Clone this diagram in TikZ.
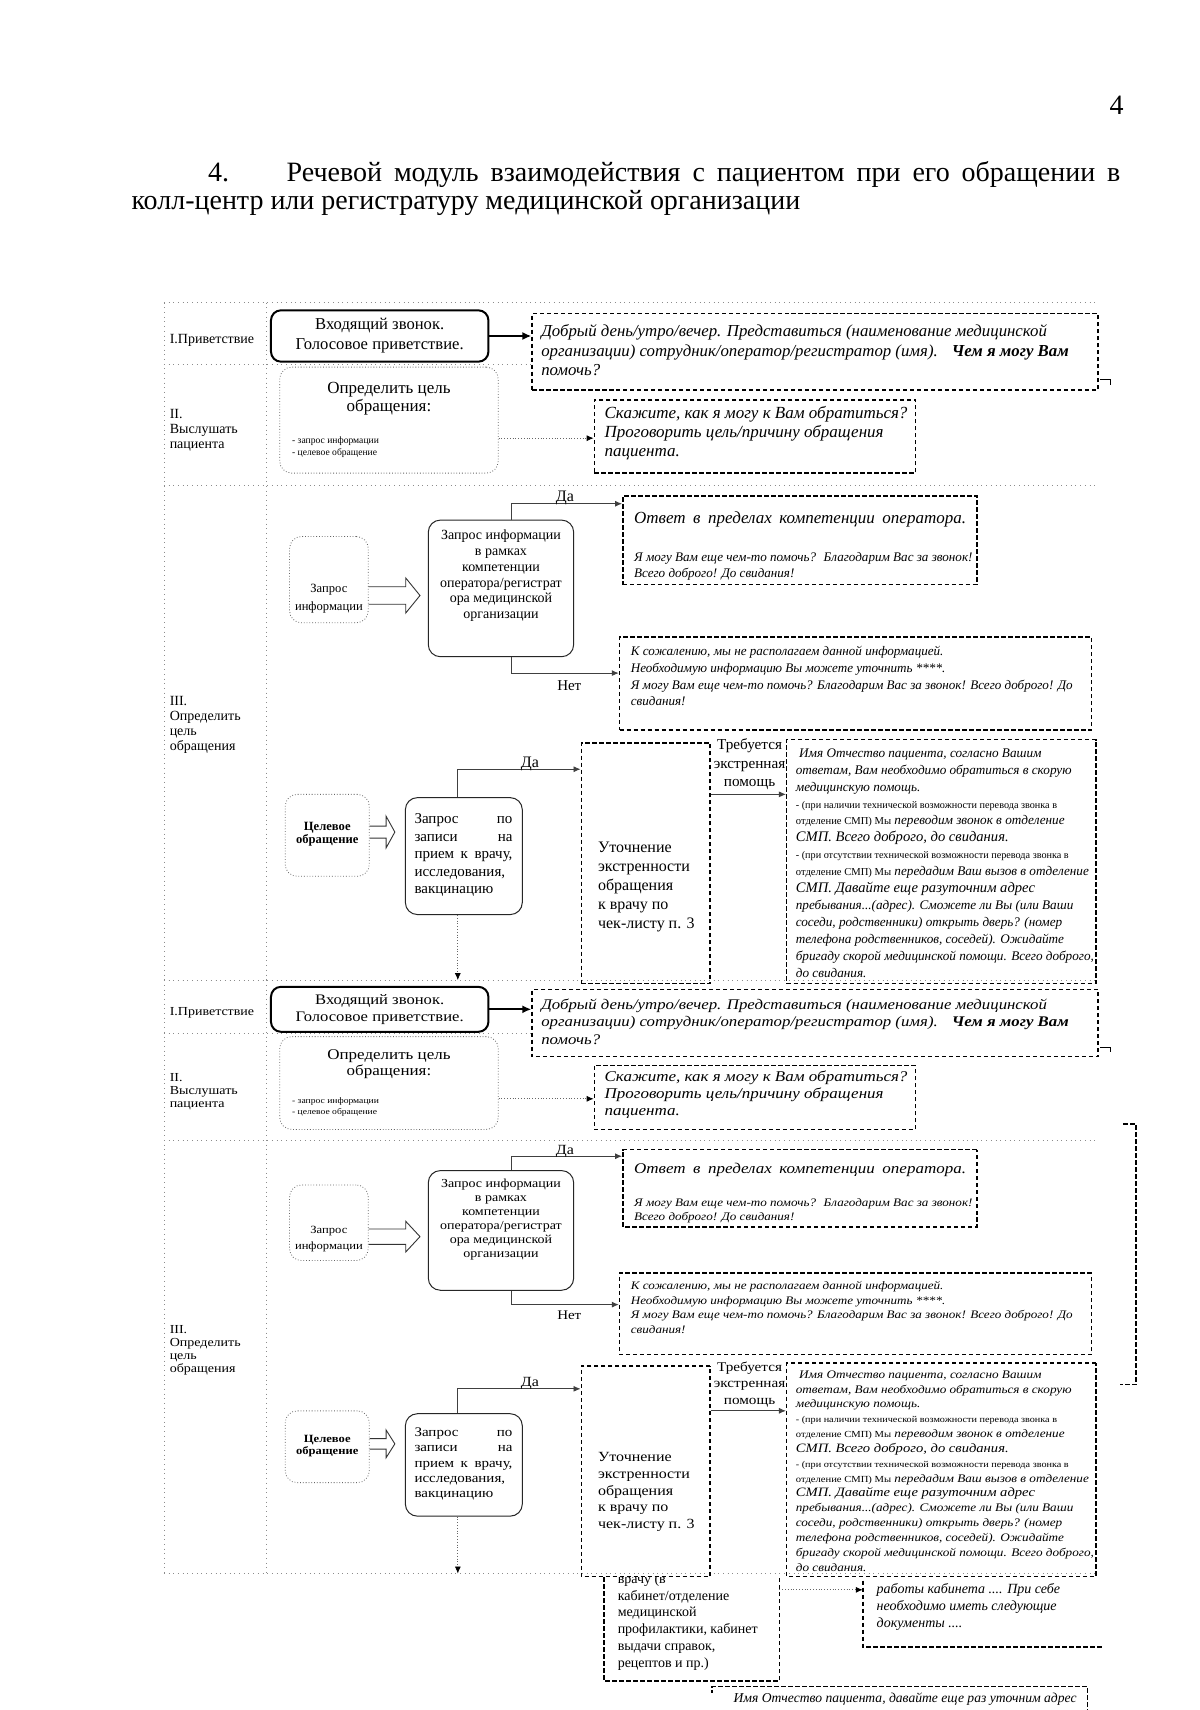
\documentclass[tikz,border=0pt]{standalone}
\usepackage{fontspec}
\setmainfont{Liberation Serif}
\usetikzlibrary{arrows.meta,calc}
\tikzset{
 frm/.style={draw=black!45,line width=0.35pt,dotted},
 dsh/.style={draw=black,line width=0.75pt,dash pattern=on 2.2pt off 1.3pt},
 dbox/.style={dsh,inner sep=0pt,rectangle},
 rboxk/.style={draw=black,line width=1pt,rounded corners=5pt,inner sep=0pt},
 rboxs/.style={draw=black!85,line width=0.5pt,rounded corners=6pt,inner sep=0pt},
 rboxg/.style={draw=black!60,line width=0.4pt,densely dotted,rounded corners=6pt,inner sep=0pt},
 conn/.style={draw=black!75,line width=0.45pt,-{Latex[length=3.5pt,width=3pt]}},
 dconn/.style={draw=black!60,line width=0.4pt,densely dotted,-{Latex[length=3.5pt,width=3pt,black]}},
 thconn/.style={draw=black,line width=1.1pt,-{Latex[length=4.5pt,width=4pt]}},
 hol/.style={draw=black!80,line width=0.45pt},
 txt/.style={anchor=base west,inner sep=0pt},
 ctxt/.style={anchor=base,inner sep=0pt},
 noshape/.style={inner sep=0pt,rectangle},
}
\newcommand\fs[2]{\fontsize{#1}{#2}\selectfont}
\newcommand\lblf{\fontsize{7}{7.4}\selectfont}
\newcommand\bx[6]{\node[#1,minimum width={(#4-#2)*0.5465pt},minimum height={(#5-#3)*0.5465pt}] (#6) at ({(#2+#4)/2},{(#3+#5)/2}) {};}
\newcommand\flowcopy{%
 \draw[frm] (150,277) -- (1005,277);
 \draw[frm] (150,277) -- (150,897);
 \draw[frm] (244,277) -- (244,897);
 \draw[frm] (150,333) -- (487,333);
 \draw[frm] (150,444) -- (1005,444);
 \draw[frm] (150,897) -- (1005,897);
 \node[txt,font=\lblf] (l1) at (155,314) {I.Приветствие};
 \node[txt,font=\lblf] (l2) at (155,383) {\parbox[t]{50pt}{\raggedright II.\\Выслушать\\пациента}};
 \node[txt,font=\lblf] (l3) at (155,646) {\parbox[t]{50pt}{\raggedright III.\\Определить\\цель\\обращения}};
 % row I
 \bx{rboxk}{248}{284}{447}{331}{a1}
 \node[ctxt,font=\fs{8.3}{9.8}] (a1t) at (347.5,302) {\parbox[t]{110pt}{\centering Входящий звонок.\\Голосовое приветствие.}};
 \bx{dbox}{487}{287}{1005}{357}{b1}
 \node[txt,font=\fs{8.4}{9.8}\itshape] (b1t) at (495,308) {\parbox[t]{330pt}{\raggedright Добрый день/утро/вечер. Представиться (наименование медицинской\\организации) сотрудник/оператор/регистратор (имя).~~ \textbf{Чем я могу Вам}\\помочь?}};
 \draw[thconn] (a1.east) -- (a1.east -| b1.west);
 \draw[line width=0.5pt] (1007,347) -- (1016,347) -- (1016,352);
 % row II
 \bx{rboxg}{256}{336}{456}{433}{a2}
 \node[ctxt,font=\fs{8.5}{9.3}] (a2t) at (356,360) {\parbox[t]{100pt}{\centering Определить цель\\обращения:}};
 \node[txt,font=\fs{4.8}{6}] (a2s) at (267,406) {\parbox[t]{60pt}{\raggedright - запрос информации\\- целевое обращение}};
 \bx{dbox}{544}{366}{838}{433}{b2}
 \node[txt,font=\fs{8.5}{9.6}\itshape] (b2t) at (553,383) {\parbox[t]{200pt}{\raggedright Скажите, как я могу к Вам обратиться?\\Проговорить цель/причину обращения\\пациента.}};
 \coordinate (ja2) at (456,401);
 \draw[dconn] (a2.east |- ja2) -- (b2.west |- ja2);
 % row III, information request
 \bx{rboxg}{265}{491}{337}{570}{c1}
 \node[ctxt,font=\fs{6.3}{9}] (c1t) at (301,542) {\parbox[t]{40pt}{\centering Запрос\\информации}};
 \coordinate (hc) at (337,545);
 \draw[hol] (c1.east |- hc) ++(0,-8) -- ++(34,0) -- ++(0,-8) -- ++(13,16) -- ++(-13,16) -- ++(0,-8) -- ++(-34,0);
 \bx{rboxs}{392}{476}{525}{601}{c2}
 \node[ctxt,font=\fs{7}{7.9}] (c2t) at (458.5,494) {\parbox[t]{72pt}{\centering Запрос информации\\в рамках\\компетенции\\оператора/регистрат\\ора медицинской\\организации}};
 \bx{dbox}{570}{454}{894}{535}{d1}
 \node[txt,font=\fs{8.5}{10}\itshape] (d1a) at (580,479) {\makebox[166pt][s]{Ответ в пределах компетенции оператора.}};
 \node[txt,font=\fs{6.55}{7.7}\itshape] (d1b) at (580,514) {\parbox[t]{220pt}{\raggedright Я могу Вам еще чем-то помочь?~ Благодарим Вас за звонок!\\Всего доброго! До свидания!}};
 \coordinate (jy1) at (468,461);
 \draw[conn] (c2.north -| jy1) -- (jy1) -- (d1.west |- jy1);
 \node[ctxt,font=\fs{8}{9}] (da1) at (517,459) {Да};
 \bx{dbox}{567}{583}{999}{668}{d2}
 \node[txt,font=\fs{6.55}{8.4}\itshape] (d2t) at (577,600) {\parbox[t]{280pt}{\raggedright К сожалению, мы не располагаем данной информацией.\\Необходимую информацию Вы можете уточнить ****.\\Я могу Вам еще чем-то помочь? Благодарим Вас за звонок! Всего доброго! До\\свидания!}};
 \coordinate (jn1) at (468,616);
 \draw[conn] (c2.south -| jn1) -- (jn1) -- (d2.west |- jn1);
 \node[ctxt,font=\fs{7.5}{9}] (net1) at (521,632) {Нет};
 % row III, targeted request
 \bx{rboxg}{261}{727}{338}{802}{e1}
 \node[ctxt,font=\fs{6.3}{6.6}\bfseries] (e1t) at (299.5,760) {\parbox[t]{40pt}{\centering Целевое\\обращение}};
 \coordinate (he) at (338,761.5);
 \draw[hol] (e1.east |- he) ++(0,-5.5) -- ++(15,0) -- ++(0,-9) -- ++(8,14.5) -- ++(-8,14.5) -- ++(0,-9) -- ++(-15,0);
 \bx{rboxs}{371}{730}{478}{837}{e2}
 \node[txt,font=\fs{7.5}{8.7}] (e2t) at (379,754) {\parbox[t]{49pt}{\makebox[49pt][s]{Запрос по}\\ \makebox[49pt][s]{записи на}\\ \makebox[49pt][s]{прием к врачу,}\\ исследования,\\ вакцинацию}};
 \bx{dbox}{532}{680}{650}{900}{f1}
 \node[txt,font=\fs{8}{9.56}] (f1t) at (547,780) {\parbox[t]{80pt}{\raggedright Уточнение\\экстренности\\обращения\\к врачу по\\чек-листу п. 3}};
 \coordinate (jy2) at (419,704);
 \draw[conn] (e2.north -| jy2) -- (jy2) -- (f1.west |- jy2);
 \node[ctxt,font=\fs{8}{9}] (da2) at (485,702) {Да};
 \coordinate (jd2) at (419,897);
 \draw[dconn] (e2.south -| jd2) -- (jd2);
 \node[ctxt,font=\fs{7.6}{9.3}] (tr) at (686,686) {\parbox[t]{44pt}{\centering Требуется\\экстренная\\помощь}};
 \bx{dbox}{720}{677}{1003}{900}{g1}
 \coordinate (jf) at (650,727);
 \draw[conn] (f1.east |- jf) -- (g1.west |- jf);
 \node[txt,font=\fs{6.6}{8.47}\itshape] (g1t) at (728,693) {\parbox[t]{220pt}{\raggedright
  ~Имя Отчество пациента, согласно Вашим\\
  ответам, Вам необходимо обратиться в скорую\\
  медицинскую помощь.\\
  {\upshape\fs{5.1}{8.47}- (при наличии технической возможности перевода звонка в}\\
  {\upshape\fs{5.3}{8.47}отделение СМП) Мы} переводим звонок в отделение\\
  {\fs{7.3}{8.47}СМП. Всего доброго, до свидания.}\\
  {\upshape\fs{5.1}{8.47}- (при отсутствии технической возможности перевода звонка в}\\
  {\upshape\fs{5.3}{8.47}отделение СМП) Мы} передадим Ваш вызов в отделение\\
  {\fs{7.3}{8.47}СМП. Давайте еще разуточним адрес}\\
  пребывания...(адрес). Сможете ли Вы (или Ваши\\
  соседи, родственники) открыть дверь? (номер\\
  телефона родственников, соседей). Ожидайте\\
  бригаду скорой медицинской помощи. Всего доброго,\\
  до свидания.}};
}
\begin{document}
\begin{tikzpicture}[x=0.5465pt,y=-0.5465pt]
\useasboundingbox (0,0) rectangle (1098,1565);
\fill[white] (0,0) rectangle (1098,1565);
\node[ctxt,font=\fs{14}{16}] (pn) at (1022,105) {4};
\node[txt,font=\fs{14}{16}] (tn) at (190,166) {4.};
\node[txt,font=\fs{14}{16}] (t1) at (262,166) {\makebox[417pt][s]{Речевой модуль взаимодействия с пациентом при его обращении в}};
\node[txt,font=\fs{14}{16}] (t2) at (120,192) {колл-центр или регистратуру медицинской организации};
\begin{scope}\flowcopy\end{scope}
\begin{scope}[shift={(0,654.35)},yscale=0.876,transform shape,name prefix=k-]\flowcopy\end{scope}
% continuation below the second copy
\begin{scope}
 \clip (540,1444) rectangle (730,1545);
 \node[txt,font=\fs{7}{8.4}] (ht) at (565,1449) {\parbox[t]{100pt}{\raggedright врачу (в\\кабинет/отделение\\медицинской\\профилактики, кабинет\\выдачи справок,\\рецептов и пр.)}};
\end{scope}
\bx{noshape}{553}{1444}{713}{1538}{h}
\draw[dsh] (h.north west) -- (h.south west) -- (h.south east) -- (h.north east);
\bx{noshape}{790}{1447}{1010}{1507}{ib}
\draw[dsh] (ib.north west) -- (ib.south west) -- (ib.south east);
\node[txt,font=\fs{7}{8.7}\itshape] (ibt) at (802,1458) {\parbox[t]{150pt}{\raggedright работы кабинета .... При себе\\необходимо иметь следующие\\документы ....}};
\coordinate (jh) at (713,1455);
\draw[dconn] (h.east |- jh) -- (ib.west |- jh);
\bx{noshape}{652}{1544}{995}{1600}{jb}
\draw[dsh] (jb.south east) -- (jb.north east) -- (jb.north west) -- ++(0,6);
\node[txt,font=\fs{6.8}{8}\itshape] (jbt) at (671,1558) {Имя Отчество пациента, давайте еще раз уточним адрес};
\draw[dsh,line width=0.9pt] (1028,1029) -- (1040,1029) -- (1040,1267) -- (1025,1267);
\end{tikzpicture}
\end{document}
